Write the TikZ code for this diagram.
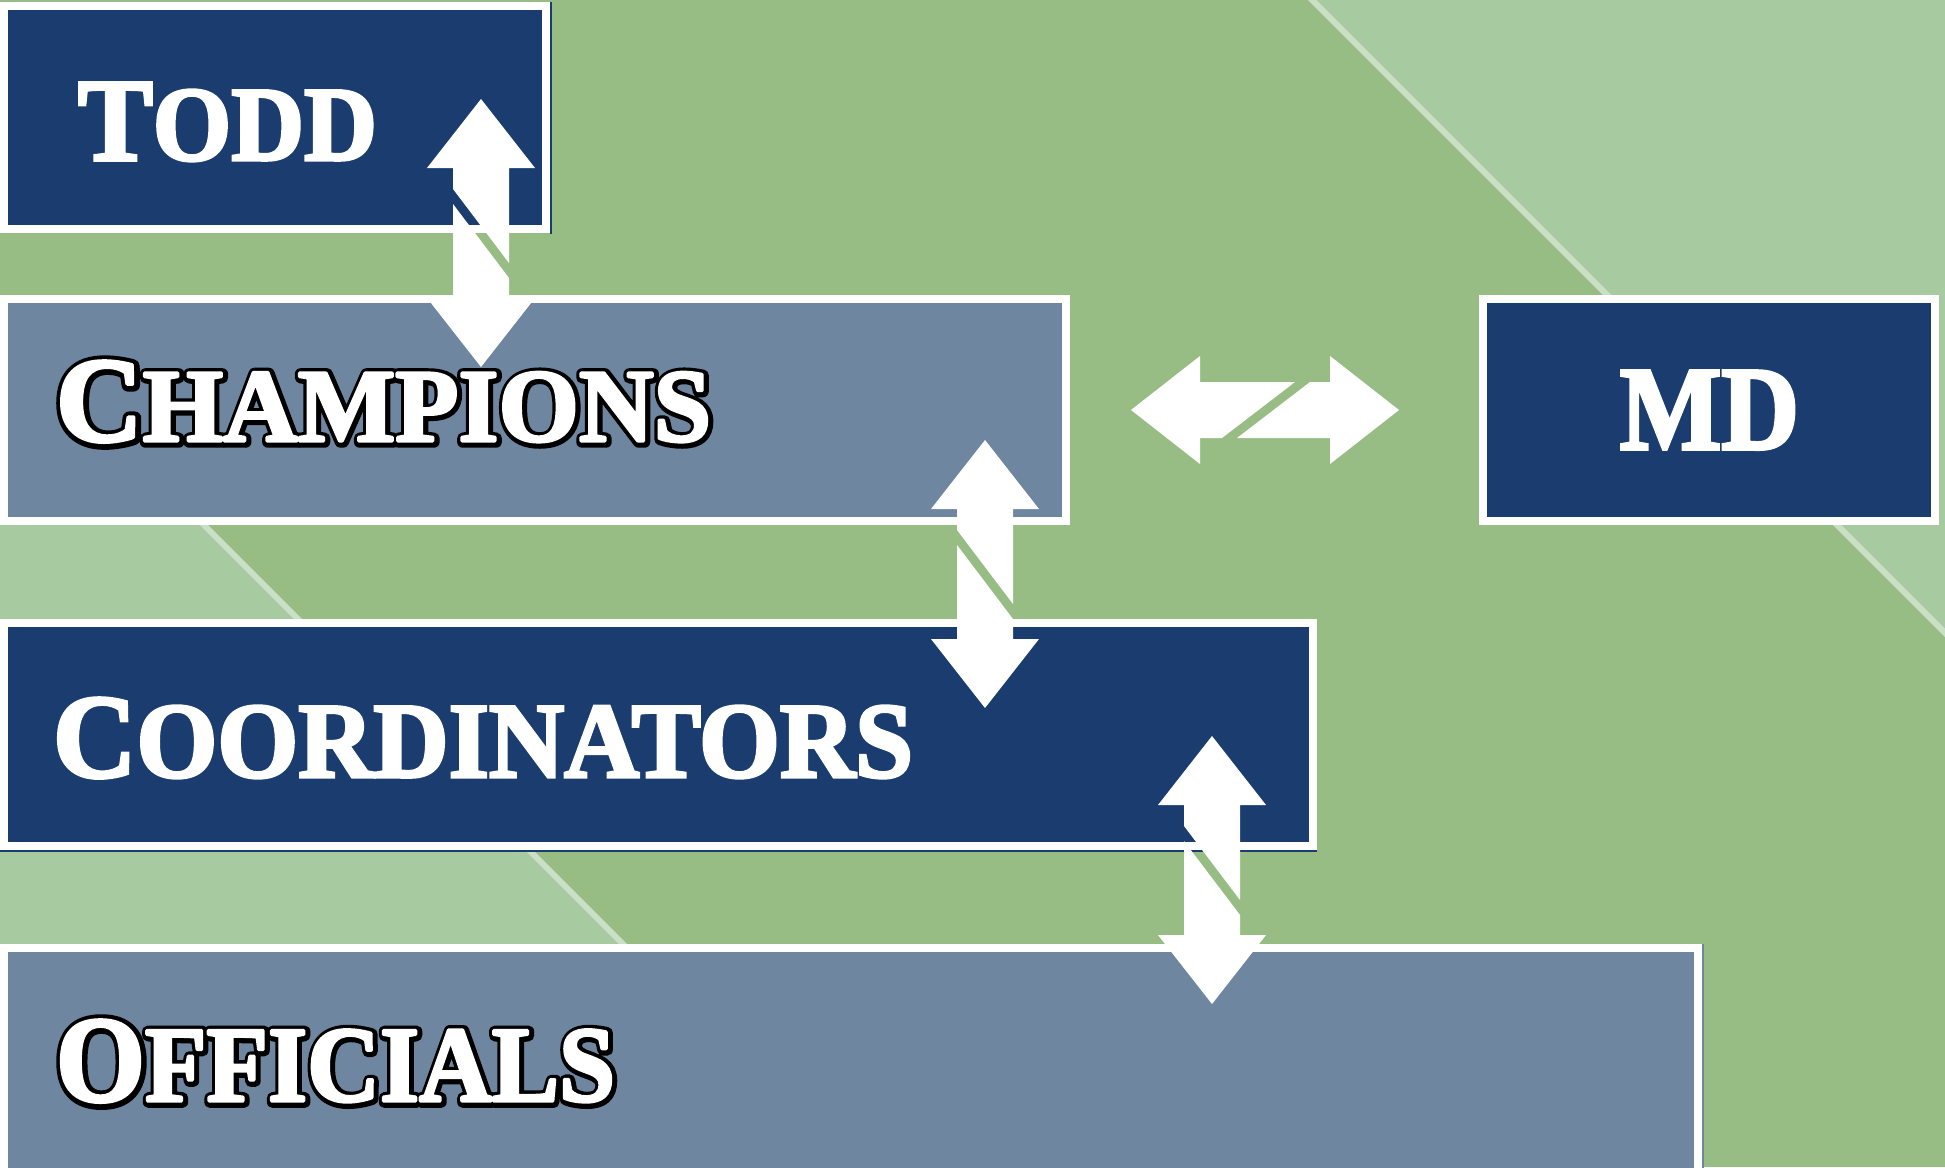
\documentclass[tikz,border=0pt]{standalone}
\usepackage{fontspec}
\setmainfont{Liberation Serif}
\newfontface\olface{Liberation Serif Bold}[FakeBold=11]
\newfontface\whface{Liberation Serif Bold}[FakeBold=3]
\usepackage{graphicx}
\definecolor{navy}{RGB}{27,60,111}
\definecolor{slate}{RGB}{110,134,160}
\definecolor{bggreen}{RGB}{151,189,133}
\definecolor{lgreen}{RGB}{168,202,160}
\definecolor{stripe}{RGB}{202,223,197}
\newcommand\bigsmall[4]{\whface{\fontsize{#1}{#1}\selectfont #2}{\fontsize{#3}{#3}\selectfont #4}}
\newcommand\olbigsmall[4]{\olface{\fontsize{#1}{#1}\selectfont #2}{\fontsize{#3}{#3}\selectfont #4}}
% #1 width, #2 height, #3 capital, #4 small size, #5 rest
\newcommand\outlinedlabel[5]{\rlap{\special{pdf:literal direct 1 j}\kern1pt\raisebox{-1pt}{\color{black}\resizebox{#1}{#2}{\olbigsmall{100}{#3}{#4}{#5}}}}%
  \resizebox{#1}{#2}{\bigsmall{100}{#3}{#4}{#5}}}
\tikzset{
  box/.style={draw=white, line width=8pt, inner sep=0pt, outer sep=0pt},
  lbl/.style={anchor=base west, inner sep=0pt, outer sep=0pt, text=white},
  vdbl/.pic={
    \fill[white] (0,0) -- (54,69) -- (28,69) -- (28,164) -- (-28,90) -- (-28,69) -- (-54,69) -- cycle;
    \fill[white] (-28,105) -- (28,179) -- (28,199) -- (54,199) -- (0,268) -- (-54,199) -- (-28,199) -- cycle;
  },
  hdbl/.pic={
    \fill[white] (0,0) -- (69,-54) -- (69,-28) -- (164,-28) -- (91,28) -- (69,28) -- (69,54) -- cycle;
    \fill[white] (106,28) -- (179,-28) -- (199,-28) -- (199,-54) -- (268,0) -- (199,54) -- (199,28) -- cycle;
  }
}
\begin{document}
\begin{tikzpicture}[x=1pt,y=-1pt]
\useasboundingbox (0,0) rectangle (1945,1167);
\clip (0,0) rectangle (1945,1167);
% background
\fill[bggreen] (0,0) rectangle (1945,1167);
\fill[lgreen] (1312,0) -- (1960,0) -- (1960,648) -- cycle;
\fill[lgreen] (0,321) -- (846,1167) -- (0,1167) -- cycle;
\draw[stripe, line width=6pt] (1302,-10) -- (1960,648);
\draw[stripe, line width=6pt] (-10,311) -- (856,1177);
% boxes
\node[box, fill=navy, minimum width=542, minimum height=223] (todd) at (275,117.5) {};
\node[box, fill=slate, minimum width=1062, minimum height=222] (champ) at (535,410) {};
\node[box, fill=navy, minimum width=452, minimum height=222] (md) at (1709,410) {};
\node[box, fill=navy, minimum width=1309, minimum height=223] (coord) at (658.5,734.5) {};
\node[box, fill=slate, minimum width=1694, minimum height=227] (off) at (851,1061.5) {};
% thin edge lines
\draw[navy, line width=1.5pt] (todd.north east) ++(4.8,-4) -- ++(0,232);
\draw[navy, line width=1.5pt] (coord.south west) ++(-4,4.8) -- ++(1317,0);
\draw[slate, line width=1.5pt] (off.north east) ++(4.8,-4) -- ++(0,240);
% labels
\node[lbl] (ltodd) at (78,160) {\resizebox{299pt}{77pt}{\bigsmall{100}{T}{90}{ODD}}};
\node[lbl] (lmd) at (1620,449) {\resizebox{179pt}{78pt}{\whface MD}};
\node[lbl] (lchamp) at (56,441) {\outlinedlabel{655pt}{80pt}{C}{86}{HAMPIONS}};
\node[lbl] (lcoord) at (53,777) {\resizebox{860pt}{79pt}{\bigsmall{100}{C}{90}{OORDINATORS}}};
\node[lbl] (loff) at (56,1101) {\outlinedlabel{559pt}{81pt}{O}{88}{FFICIALS}};
% connectors (double block arrows)
\coordinate (a1) at (481,99);
\coordinate (a2) at (1131,410);
\coordinate (a3) at (985,440);
\coordinate (a4) at (1212,736);
\pic at (a1) {vdbl};
\pic at (a2) {hdbl};
\pic at (a3) {vdbl};
\pic at (a4) {vdbl};
\end{tikzpicture}
\end{document}
